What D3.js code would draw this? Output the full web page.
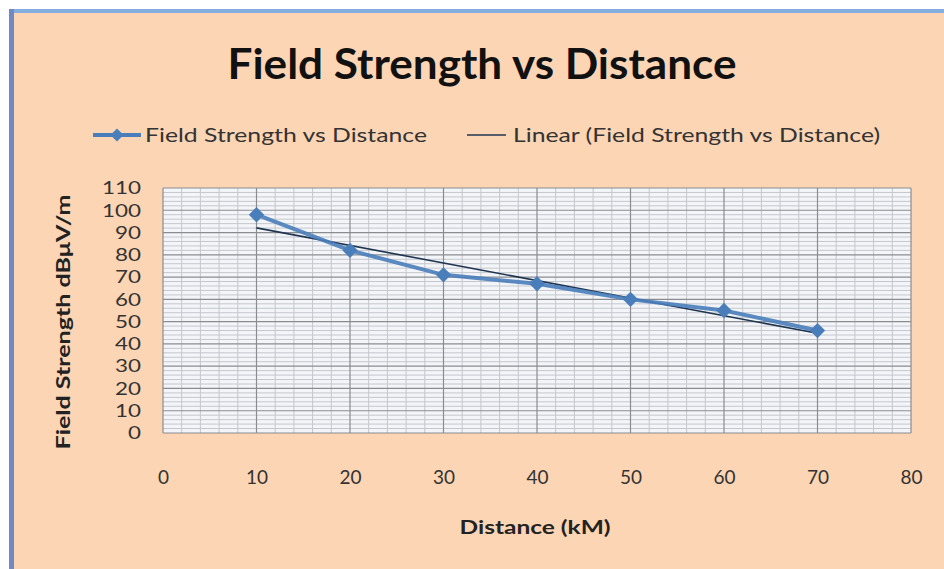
<!DOCTYPE html>
<html>
<head>
<meta charset="utf-8">
<script src="https://cdn.jsdelivr.net/npm/d3@7"></script>
<style>
  body { margin: 0; background: #fff; }
  svg { display: block; }
</style>
</head>
<body>
<div class="canva"></div>
<script>
// chart values
const distances = [10, 20, 30, 40, 50, 60, 70];
const strengths = [98, 82, 71, 67, 60, 55, 46];
const xTicks = [0, 10, 20, 30, 40, 50, 60, 70, 80];
const yTicks = [0, 10, 20, 30, 40, 50, 60, 70, 80, 90, 100, 110];

const width = 944, height = 569;
const plot = { left: 163, right: 911, top: 188, bottom: 433 };

const svg = d3.select('.canva').append('svg')
    .attr('width', width)
    .attr('height', height);

// chart area background + blue frame edges
svg.append('rect').attr('x', 9).attr('y', 9).attr('width', width - 9).attr('height', height - 9)
    .attr('fill', '#fcd5b4');
svg.append('rect').attr('x', 9).attr('y', 9).attr('width', width - 9).attr('height', 4).attr('fill', '#84aee0');
svg.append('rect').attr('x', 9).attr('y', 9).attr('width', 5).attr('height', height - 9).attr('fill', '#7089c2');

const x = d3.scaleLinear().domain([0, 80]).range([plot.left, plot.right]);
const y = d3.scaleLinear().domain([0, 110]).range([plot.bottom, plot.top]);

// plot area
svg.append('rect')
    .attr('x', plot.left).attr('y', plot.top)
    .attr('width', plot.right - plot.left).attr('height', plot.bottom - plot.top)
    .attr('fill', '#f3f5f9');

// minor grid every 2 units
const minorX = d3.range(0, 81, 2).filter(v => v % 10 !== 0);
const minorY = d3.range(0, 111, 2).filter(v => v % 10 !== 0);
svg.append('g').selectAll('line').data(minorX).enter().append('line')
    .attr('x1', d => x(d)).attr('x2', d => x(d))
    .attr('y1', plot.top).attr('y2', plot.bottom)
    .attr('stroke', '#c4c7cc').attr('stroke-width', 1);
svg.append('g').selectAll('line').data(minorY).enter().append('line')
    .attr('y1', d => y(d)).attr('y2', d => y(d))
    .attr('x1', plot.left).attr('x2', plot.right)
    .attr('stroke', '#c4c7cc').attr('stroke-width', 1);

// major grid
svg.append('g').selectAll('line').data(xTicks).enter().append('line')
    .attr('x1', d => x(d)).attr('x2', d => x(d))
    .attr('y1', plot.top).attr('y2', plot.bottom)
    .attr('stroke', '#8a8c90').attr('stroke-width', 1.2);
svg.append('g').selectAll('line').data(yTicks).enter().append('line')
    .attr('y1', d => y(d)).attr('y2', d => y(d))
    .attr('x1', plot.left).attr('x2', plot.right)
    .attr('stroke', '#8a8c90').attr('stroke-width', 1.2);

// axes (labels only, Excel-style)
const font = 'Lato, "Open Sans", sans-serif';
const xAxis = svg.append('g')
    .attr('transform', `translate(0,${plot.bottom + 37})`)
    .call(d3.axisBottom(x).tickValues(xTicks).tickSize(0).tickPadding(0));
xAxis.select('.domain').remove();
xAxis.selectAll('text').attr('font-family', font).attr('font-size', 19).attr('fill', '#333');

const yAxis = svg.append('g')
    .attr('transform', `translate(${plot.left - 22},0)`)
    .call(d3.axisLeft(y).tickValues(yTicks).tickSize(0).tickPadding(0));
yAxis.select('.domain').remove();
yAxis.selectAll('text').attr('font-family', font).attr('font-size', 18).attr('fill', '#333')
    .attr('textLength', d => String(d).length * 13).attr('lengthAdjust', 'spacingAndGlyphs');

// linear trendline from least squares fit
const mx = d3.mean(distances), my = d3.mean(strengths);
const slope = d3.sum(distances, (d, i) => (d - mx) * (strengths[i] - my)) /
              d3.sum(distances, d => (d - mx) * (d - mx));
const icpt = my - slope * mx;
const x0 = d3.min(distances), x1 = d3.max(distances);
svg.append('line')
    .attr('x1', x(x0)).attr('y1', y(icpt + slope * x0))
    .attr('x2', x(x1)).attr('y2', y(icpt + slope * x1))
    .attr('stroke', '#1f3550').attr('stroke-width', 1.6);

// data series
const pts = distances.map((d, i) => [d, strengths[i]]);
svg.append('path')
    .attr('d', d3.line().x(d => x(d[0])).y(d => y(d[1]))(pts))
    .attr('fill', 'none').attr('stroke', '#4a7ebb').attr('stroke-width', 4)
    .attr('stroke-opacity', 0.9);
svg.append('g').selectAll('path').data(pts).enter().append('path')
    .attr('d', d3.symbol().type(d3.symbolDiamond2).size(150))
    .attr('transform', d => `translate(${x(d[0])},${y(d[1])})`)
    .attr('fill', '#4a7ebb');

// title
svg.append('text').attr('x', 482).attr('y', 79).attr('text-anchor', 'middle')
    .attr('font-family', font).attr('font-weight', 'bold').attr('font-size', 42)
    .attr('textLength', 509).attr('lengthAdjust', 'spacingAndGlyphs')
    .attr('fill', '#111').text('Field Strength vs Distance');

// legend
const lg = svg.append('g').attr('font-family', font).attr('font-size', 19).attr('fill', '#333');
lg.append('line').attr('x1', 93).attr('x2', 141).attr('y1', 135).attr('y2', 135)
    .attr('stroke', '#4a7ebb').attr('stroke-width', 4);
lg.append('path').attr('d', d3.symbol().type(d3.symbolDiamond2).size(110))
    .attr('transform', 'translate(117,135)').attr('fill', '#4a7ebb');
lg.append('text').attr('x', 145).attr('y', 142).attr('textLength', 282)
    .attr('lengthAdjust', 'spacingAndGlyphs').text('Field Strength vs Distance');
lg.append('line').attr('x1', 467).attr('x2', 506).attr('y1', 135).attr('y2', 135)
    .attr('stroke', '#1f3550').attr('stroke-width', 1.4);
lg.append('text').attr('x', 513).attr('y', 142).attr('textLength', 367)
    .attr('lengthAdjust', 'spacingAndGlyphs').text('Linear (Field Strength vs Distance)');

// axis titles
svg.append('text').attr('x', 535).attr('y', 534).attr('text-anchor', 'middle')
    .attr('font-family', font).attr('font-weight', 'bold').attr('font-size', 19)
    .attr('textLength', 151).attr('lengthAdjust', 'spacingAndGlyphs')
    .attr('fill', '#222').text('Distance (kM)');
svg.append('text')
    .attr('transform', 'translate(70,322) rotate(-90)')
    .attr('text-anchor', 'middle')
    .attr('font-family', font).attr('font-weight', 'bold').attr('font-size', 19)
    .attr('textLength', 255).attr('lengthAdjust', 'spacingAndGlyphs')
    .attr('fill', '#222').text('Field Strength dBμV/m');
</script>
</body>
</html>
